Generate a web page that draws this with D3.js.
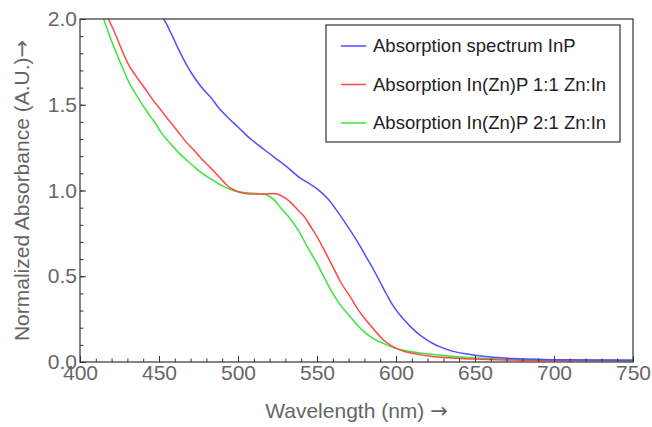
<!DOCTYPE html>
<html>
<head>
<meta charset="utf-8">
<script src="https://cdn.jsdelivr.net/npm/d3@7"></script>
<style>
  body { margin: 0; background: #fff; }
  text { font-family: "Liberation Sans", Arial, sans-serif; }
</style>
</head>
<body>
<div id="chart"></div>
<script>
// Series values (wavelength in nm, normalized absorbance)
const inpNm  = [448, 453, 458, 462, 467, 473, 478, 483, 488, 492, 500, 508, 515, 522, 530, 539, 546, 552, 557, 562, 568, 573, 577, 581, 586, 590, 594, 598, 602, 607, 611, 615, 619, 624, 628, 635, 645, 655, 665, 675, 687, 700, 720, 750];
const inpAbs = [2.06, 2.0, 1.91, 1.83, 1.74, 1.65, 1.59, 1.54, 1.48, 1.44, 1.37, 1.30, 1.25, 1.20, 1.145, 1.075, 1.035, 0.995, 0.95, 0.89, 0.81, 0.74, 0.68, 0.615, 0.535, 0.465, 0.395, 0.33, 0.28, 0.228, 0.19, 0.158, 0.132, 0.105, 0.088, 0.065, 0.047, 0.034, 0.026, 0.02, 0.016, 0.013, 0.011, 0.01];

const zn11Nm  = [416, 418, 422, 426, 431, 436, 441, 446, 452, 457, 462, 467, 473, 478, 483, 488, 492, 495, 500, 505, 510, 517, 522, 526, 530, 534, 538, 542, 546, 550, 555, 560, 565, 571, 576, 581, 586, 592, 597, 602, 608, 615, 622, 635, 650, 670, 700, 750];
const zn11Abs = [2.04, 2.0, 1.92, 1.83, 1.73, 1.66, 1.596, 1.53, 1.46, 1.40, 1.343, 1.285, 1.226, 1.175, 1.129, 1.08, 1.04, 1.015, 0.993, 0.983, 0.98, 0.98, 0.982, 0.975, 0.955, 0.925, 0.885, 0.847, 0.79, 0.731, 0.645, 0.556, 0.465, 0.381, 0.305, 0.245, 0.19, 0.128, 0.095, 0.072, 0.055, 0.043, 0.034, 0.024, 0.017, 0.012, 0.009, 0.007];

const zn21Nm  = [413, 415, 420, 426, 431, 437, 442, 447, 452, 458, 463, 469, 474, 479, 485, 492, 498, 505, 512, 517, 520, 523, 527, 532, 538, 544, 550, 555, 560, 565, 571, 576, 581, 586, 592, 597, 602, 608, 615, 622, 635, 650, 670, 700, 750];
const zn21Abs = [2.05, 2.0, 1.87, 1.735, 1.63, 1.537, 1.465, 1.401, 1.33, 1.265, 1.215, 1.165, 1.125, 1.09, 1.055, 1.018, 0.997, 0.987, 0.982, 0.978, 0.965, 0.944, 0.9, 0.847, 0.77, 0.67, 0.575, 0.485, 0.4, 0.33, 0.264, 0.21, 0.167, 0.135, 0.109, 0.088, 0.074, 0.063, 0.053, 0.045, 0.033, 0.024, 0.017, 0.013, 0.011];

const seriesNames = ["Absorption spectrum InP", "Absorption In(Zn)P 1:1 Zn:In", "Absorption In(Zn)P 2:1 Zn:In"];
const seriesColors = ["#4f4fff", "#ff4747", "#3ae63a"];

const xTicks = [400, 450, 500, 550, 600, 650, 700, 750];
const yTicks = [0.0, 0.5, 1.0, 1.5, 2.0];

const width = 652, height = 427;
const margin = { top: 19, right: 19, bottom: 65, left: 80 };
const innerW = width - margin.left - margin.right;
const innerH = height - margin.top - margin.bottom;

const svg = d3.select("#chart").append("svg")
    .attr("width", width)
    .attr("height", height)
    .style("background", "#fff");

const g = svg.append("g").attr("transform", `translate(${margin.left},${margin.top})`);

const x = d3.scaleLinear().domain([400, 750]).range([0, innerW]);
const y = d3.scaleLinear().domain([0, 2]).range([innerH, 0]);

// Clip curves to the frame
svg.append("defs").append("clipPath").attr("id", "clip")
  .append("rect").attr("width", innerW).attr("height", innerH);

const series = [
  { name: seriesNames[0], color: seriesColors[0], pts: inpNm.map((d, i) => [d, inpAbs[i]]) },
  { name: seriesNames[1], color: seriesColors[1], pts: zn11Nm.map((d, i) => [d, zn11Abs[i]]) },
  { name: seriesNames[2], color: seriesColors[2], pts: zn21Nm.map((d, i) => [d, zn21Abs[i]]) }
];

const line = d3.line()
    .x(d => x(d[0]))
    .y(d => y(d[1]))
    .curve(d3.curveMonotoneX);

g.append("g").attr("clip-path", "url(#clip)")
  .selectAll("path")
  .data(series.slice().reverse())
  .enter().append("path")
    .attr("d", d => line(d.pts))
    .attr("fill", "none")
    .attr("stroke", d => d.color)
    .attr("stroke-width", 1.5);

// Minor ticks (inward)
g.append("g")
    .attr("transform", `translate(0,${innerH})`)
    .call(d3.axisBottom(x).tickValues(d3.range(400, 751, 10)).tickSize(-3.5).tickFormat(""))
    .call(a => a.select(".domain").remove());
g.append("g")
    .call(d3.axisLeft(y).tickValues(d3.range(0, 2.01, 0.1)).tickSize(-3.5).tickFormat(""))
    .call(a => a.select(".domain").remove());

// Major ticks with labels
const xAxis = g.append("g")
    .attr("transform", `translate(0,${innerH})`)
    .call(d3.axisBottom(x).tickValues(xTicks).tickSize(-6).tickPadding(3))
    .call(a => a.select(".domain").remove());
const yAxis = g.append("g")
    .call(d3.axisLeft(y).tickValues(yTicks).tickFormat(d3.format(".1f")).tickSize(-6).tickPadding(3))
    .call(a => a.select(".domain").remove());

g.selectAll(".tick line").attr("stroke", "#333");
[xAxis, yAxis].forEach(a => a.selectAll("text")
    .attr("fill", "#666")
    .style("font-size", "21px"));

// Frame
g.append("rect")
    .attr("width", innerW)
    .attr("height", innerH)
    .attr("fill", "none")
    .attr("stroke", "#333")
    .attr("stroke-width", 1.2);

// Axis titles (arrow drawn with DejaVu, which has a fuller glyph)
const xTitle = svg.append("text")
    .attr("x", margin.left + innerW / 2)
    .attr("y", 418)
    .attr("text-anchor", "middle")
    .attr("fill", "#666")
    .style("font-size", "21px");
xTitle.append("tspan").text("Wavelength (nm) ");
xTitle.append("tspan").style("font-family", "'DejaVu Sans'").text("\u2192");

const yTitle = svg.append("text")
    .attr("transform", `translate(29,${margin.top + innerH / 2}) rotate(-90)`)
    .attr("text-anchor", "middle")
    .attr("fill", "#666")
    .style("font-size", "21px");
yTitle.append("tspan").text("Normalized Absorbance (A.U.)");
yTitle.append("tspan").style("font-family", "'DejaVu Sans'").text("\u2192");

// Legend
const legend = svg.append("g").attr("transform", "translate(326,25)");
legend.append("rect")
    .attr("width", 294)
    .attr("height", 117)
    .attr("fill", "#fff")
    .attr("stroke", "#333")
    .attr("stroke-width", 1.2);

const rows = legend.selectAll(".row")
  .data(series)
  .enter().append("g")
    .attr("transform", (d, i) => `translate(0,${21 + i * 38.5})`);
rows.append("line")
    .attr("x1", 15).attr("x2", 40)
    .attr("stroke", d => d.color)
    .attr("stroke-width", 1.5);
rows.append("text")
    .attr("x", 47)
    .attr("dy", "0.35em")
    .attr("fill", "#222")
    .style("font-size", "18.5px")
    .text(d => d.name);
</script>
</body>
</html>
